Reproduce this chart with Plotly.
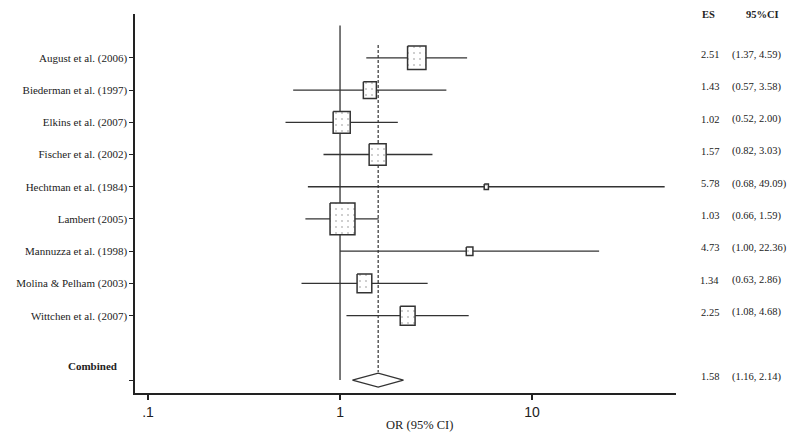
import numpy as np
import plotly.graph_objects as go

studies = ["August et al. (2006)", "Biederman et al. (1997)", "Elkins et al. (2007)",
           "Fischer et al. (2002)", "Hechtman et al. (1984)", "Lambert (2005)",
           "Mannuzza et al. (1998)", "Molina & Pelham (2003)", "Wittchen et al. (2007)"]
es = [2.51, 1.43, 1.02, 1.57, 5.78, 1.03, 4.73, 1.34, 2.25]
ci_low = [1.37, 0.57, 0.52, 0.82, 0.68, 0.66, 1.00, 0.63, 1.08]
ci_high = [4.59, 3.58, 2.00, 3.03, 49.09, 1.59, 22.36, 2.86, 4.68]
weight = [15.3, 7.7, 13.2, 13.1, 0.8, 28.1, 2.0, 9.8, 10.0]  # % weights

combined_label = "Combined"
combined_es = 1.58
combined_low = 1.16
combined_high = 2.14

x_tickvals = [0.1, 1, 10]
x_ticktext = [".1", "1", "10"]

# layout geometry (pixels); page body has an 8px margin, so the figure is 792x432
W, H = 792, 432
M = dict(l=127, r=124, t=6, b=47)
XR = [-1.068, 1.75]
YR = [11.4, -0.36]
px_per_dec = (W - M["l"] - M["r"]) / (XR[1] - XR[0])
px_per_row = (H - M["t"] - M["b"]) / (YR[0] - YR[1])

rows = list(range(1, len(studies) + 1))
comb_row = len(studies) + 2

line_col = "#333333"
serif = "Liberation Serif, Times New Roman, serif"

fig = go.Figure()

# reference lines: null effect and pooled estimate
fig.add_trace(go.Scatter(x=[1, 1], y=[0, comb_row], mode="lines",
                         line=dict(color=line_col, width=1.3), hoverinfo="skip"))
fig.add_trace(go.Scatter(x=[combined_es, combined_es], y=[0.6, comb_row - 0.25], mode="lines",
                         line=dict(color=line_col, width=1.2, dash="3px,2px"), hoverinfo="skip"))

for name, e, lo, hi, w, r in zip(studies, es, ci_low, ci_high, weight, rows):
    # confidence interval
    fig.add_trace(go.Scatter(x=[lo, hi], y=[r, r], mode="lines",
                             line=dict(color=line_col, width=1.3), hoverinfo="skip"))
    # weight box (size proportional to sqrt of weight)
    bw = np.sqrt(w / 100) * 47 / 2   # half width px
    bh = np.sqrt(w / 100) * 60 / 2   # half height px
    f = 10 ** (bw / px_per_dec)
    dy = bh / px_per_row
    fig.add_trace(go.Scatter(
        x=[e / f, e * f, e * f, e / f, e / f],
        y=[r - dy, r - dy, r + dy, r + dy, r - dy],
        mode="lines", fill="toself", fillcolor="white",
        fillpattern=dict(shape=".", fgcolor="#888888", bgcolor="white", size=6, solidity=0.1),
        line=dict(color=line_col, width=1.5), name=name, hoverinfo="name"))

# combined diamond
dd = 7 / px_per_row
fig.add_trace(go.Scatter(
    x=[combined_low, combined_es, combined_high, combined_es, combined_low],
    y=[comb_row, comb_row - dd, comb_row, comb_row + dd, comb_row],
    mode="lines", fill="toself", fillcolor="white",
    line=dict(color=line_col, width=1.3), name=combined_label, hoverinfo="name"))

# right-hand ES / CI columns
ann = [dict(text="<b>ES</b>", x=1.06, y=1.0, xanchor="center"),
       dict(text="<b>95%CI</b>", x=1.16, y=1.0, xanchor="center")]
for e, lo, hi, r in zip(es + [combined_es], ci_low + [combined_low], ci_high + [combined_high],
                        rows + [comb_row]):
    ann.append(dict(text=f"{e:.2f}", x=1.083, y=r - 0.1, yref="y", xanchor="right"))
    ann.append(dict(text=f"({lo:.2f}, {hi:.2f})", x=1.1, y=r - 0.1, yref="y", xanchor="left"))
for a in ann:
    a.setdefault("yref", "paper")
    a.update(xref="paper", showarrow=False, yanchor="middle",
             font=dict(family=serif, size=10.5, color="#222"))
ann.append(dict(text=f"<b>{combined_label}</b>", xref="paper", yref="y", x=-0.03, y=comb_row - 0.45,
                xanchor="right", yanchor="middle", showarrow=False,
                font=dict(family=serif, size=11, color="#222")))
ann.append(dict(text="OR (95% CI)", xref="paper", yref="paper", x=0.525, y=-0.085,
                xanchor="center", yanchor="middle", showarrow=False,
                font=dict(family=serif, size=12.5, color="#222")))

fig.update_layout(
    width=W, height=H, margin=M, showlegend=False,
    plot_bgcolor="white", paper_bgcolor="white",
    annotations=ann,
    xaxis=dict(type="log", range=XR, tickvals=x_tickvals, ticktext=x_ticktext,
               ticks="outside", ticklen=5, tickwidth=2, tickcolor="#222",
               showline=True, linecolor="#222", linewidth=1.5, showgrid=False, zeroline=False,
               tickfont=dict(family="Liberation Sans, Arial, sans-serif", size=14, color="#222")),
    yaxis=dict(range=YR, tickvals=rows + [comb_row], ticktext=studies + [""],
               ticks="outside", ticklen=4, tickwidth=1, tickcolor="#222",
               showline=True, linecolor="#222", linewidth=1.5, showgrid=False, zeroline=False,
               tickfont=dict(family=serif, size=11, color="#222")),
)

fig.write_html("out.html")
